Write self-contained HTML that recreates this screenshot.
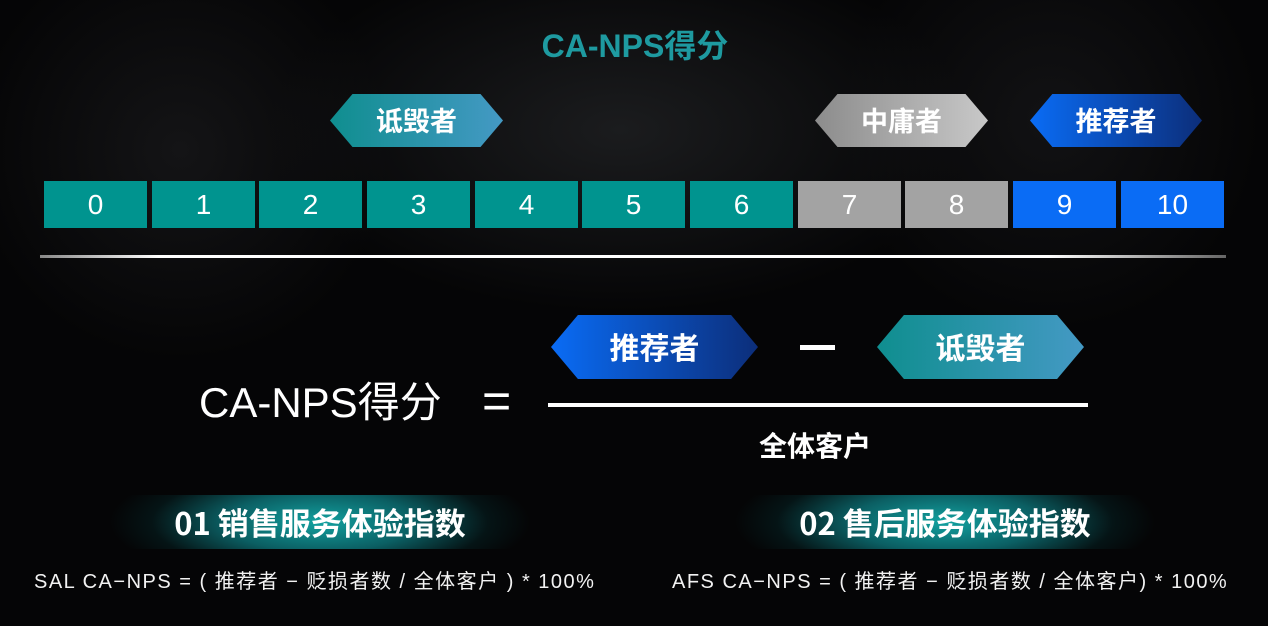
<!DOCTYPE html>
<html><head><meta charset="utf-8"><style>
*{margin:0;padding:0;box-sizing:border-box}
body{width:1268px;height:626px;background:#050506;position:relative;overflow:hidden;font-family:"Liberation Sans","Noto Sans CJK SC",sans-serif;color:#fff}
.bg{position:absolute;inset:0;background:radial-gradient(ellipse 500px 260px at 620px 130px,#1b1c1e,transparent 70%),radial-gradient(ellipse 300px 300px at 180px 150px,#141416,transparent 70%),radial-gradient(ellipse 300px 300px at 1050px 120px,#121214,transparent 70%)}
.a{position:absolute}
.box{position:absolute;top:181px;height:47px;width:103px;font-size:28px;text-align:center;line-height:47px}
.t{background:#00948f}.g{background:#a3a3a3}.b{background:#0a6cf5}
.hex{position:absolute;clip-path:polygon(13% 0,87% 0,100% 50%,87% 100%,13% 100%,0 50%);font-weight:bold;text-align:center;font-family:"Noto Sans CJK SC",sans-serif}
.ht{background:linear-gradient(90deg,#0f8e8f,#4499c4)}
.hg{background:linear-gradient(90deg,#8c8c8c,#c8c8c8)}
.hb{background:linear-gradient(90deg,#0a6cf5,#0c2e7a)}
.ban{position:absolute;top:495px;height:54px;background:radial-gradient(ellipse 50% 120% at 50% 50%,#12a1a0,#0b5f63 45%,rgba(5,30,32,0.6) 80%,transparent);font-size:31px;font-weight:bold;line-height:54px;text-align:center;font-family:"Noto Sans CJK SC",sans-serif}
.f{position:absolute;top:570px;font-size:20px;letter-spacing:1.5px;line-height:24px;color:#f2f2f2}
</style></head><body>
<div class="bg"></div>
<div class="a" style="left:0;top:26px;width:1268px;text-align:center;font-size:32px;font-weight:bold;color:#1e9aa0;line-height:40px;padding-left:2px">CA-NPS得分</div>

<div class="hex ht" style="left:330px;top:94px;width:173px;height:53px;font-size:27px;line-height:51px">诋毁者</div>
<div class="hex hg" style="left:815px;top:94px;width:173px;height:53px;font-size:27px;line-height:51px">中庸者</div>
<div class="hex hb" style="left:1030px;top:94px;width:172px;height:53px;font-size:27px;line-height:51px">推荐者</div>

<div class="box t" style="left:44px">0</div>
<div class="box t" style="left:152px">1</div>
<div class="box t" style="left:259px">2</div>
<div class="box t" style="left:367px">3</div>
<div class="box t" style="left:475px">4</div>
<div class="box t" style="left:582px">5</div>
<div class="box t" style="left:690px">6</div>
<div class="box g" style="left:798px">7</div>
<div class="box g" style="left:905px">8</div>
<div class="box b" style="left:1013px">9</div>
<div class="box b" style="left:1121px">10</div>

<div class="a" style="left:40px;top:255px;width:1186px;height:3px;background:linear-gradient(90deg,#888,#fff 10%,#fff 85%,#666)"></div>

<div class="a" style="left:199px;top:376px;font-size:42px;line-height:54px">CA-NPS得分</div>
<div class="a" style="left:482px;top:374px;font-size:50px;line-height:54px">=</div>
<div class="hex hb" style="left:551px;top:315px;width:207px;height:64px;font-size:30px;line-height:62px">推荐者</div>
<div class="a" style="left:800px;top:345px;width:35px;height:5px;background:#fff"></div>
<div class="hex ht" style="left:877px;top:315px;width:207px;height:64px;font-size:30px;line-height:62px">诋毁者</div>
<div class="a" style="left:548px;top:403px;width:540px;height:4px;background:#fff"></div>
<div class="a" style="left:740px;top:426px;width:150px;text-align:center;font-size:28px;font-weight:bold;line-height:38px;font-family:'Noto Sans CJK SC',sans-serif">全体客户</div>

<div class="ban" style="left:110px;width:420px">01 销售服务体验指数</div>
<div class="ban" style="left:735px;width:420px">02 售后服务体验指数</div>
<div class="f" style="left:34px">SAL CA−NPS = ( 推荐者 − 贬损者数 / 全体客户 ) * 100%</div>
<div class="f" style="left:672px">AFS CA−NPS = ( 推荐者 − 贬损者数 / 全体客户) * 100%</div>
</body></html>
